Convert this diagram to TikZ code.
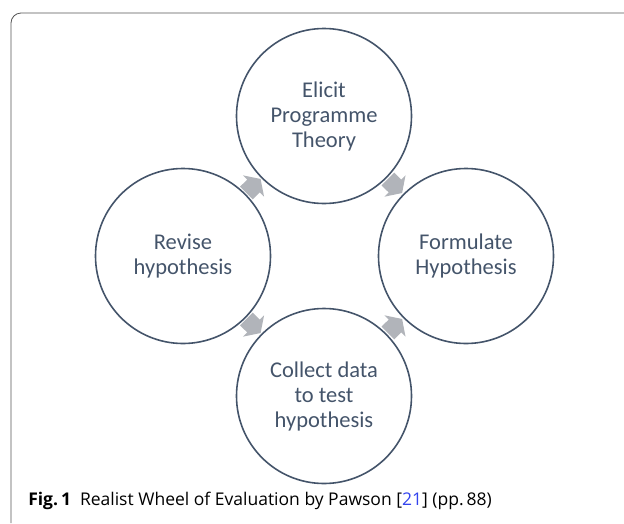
\documentclass[tikz,border=0pt]{standalone}
\usepackage{fontspec}
\setmainfont{Carlito}
\newfontfamily\capfont{Open Sans}
\definecolor{slate}{HTML}{44546A}
\definecolor{arrowgray}{HTML}{B1B4BA}
\definecolor{framegray}{HTML}{555555}
\definecolor{refblue}{HTML}{3344EE}
\tikzset{cyclearrow/.pic={
  \fill[arrowgray] (-10,-9) -- (0,-9) -- (0,-15) -- (10,0) -- (0,15) -- (0,9) -- (-10,9) -- cycle;}}

\begin{document}
\begin{tikzpicture}[x=1pt,y=-1pt,semithick]
  \tikzstyle{stage}=[circle,draw=slate,line width=1.6pt,minimum size=175pt,
                     inner sep=0pt,text=slate,align=center,
                     font=\fontsize{22.5}{25}\selectfont]

  \useasboundingbox (0,0) rectangle (624,523);
  \draw[framegray,line width=0.8pt,rounded corners=10pt] (11,523) -- (11,13) -- (624,13);

  \node[stage] (elicit)    at (324,116) {Elicit\\Programme\\Theory};
  \node[stage] (formulate) at (466,256) {Formulate\\Hypothesis};
  \node[stage] (collect)   at (324,396) {Collect data\\to test\\hypothesis};
  \node[stage] (revise)    at (183,256) {Revise\\hypothesis};

  \path (elicit)    -- pic[midway,sloped] {cyclearrow} (formulate)
        (formulate) -- pic[midway,sloped] {cyclearrow} (collect)
        (collect)   -- pic[midway,sloped] {cyclearrow} (revise)
        (revise)    -- pic[midway,sloped] {cyclearrow} (elicit);

  \node[anchor=base west,inner sep=0pt,font=\capfont\fontsize{17.5}{20}\selectfont]
    (caption) at (28,505)
    {\textbf{Fig.\,1}\hspace{9pt}Realist Wheel of Evaluation by Pawson [\textcolor{refblue}{21}] (pp.\,88)};
\end{tikzpicture}
\end{document}
